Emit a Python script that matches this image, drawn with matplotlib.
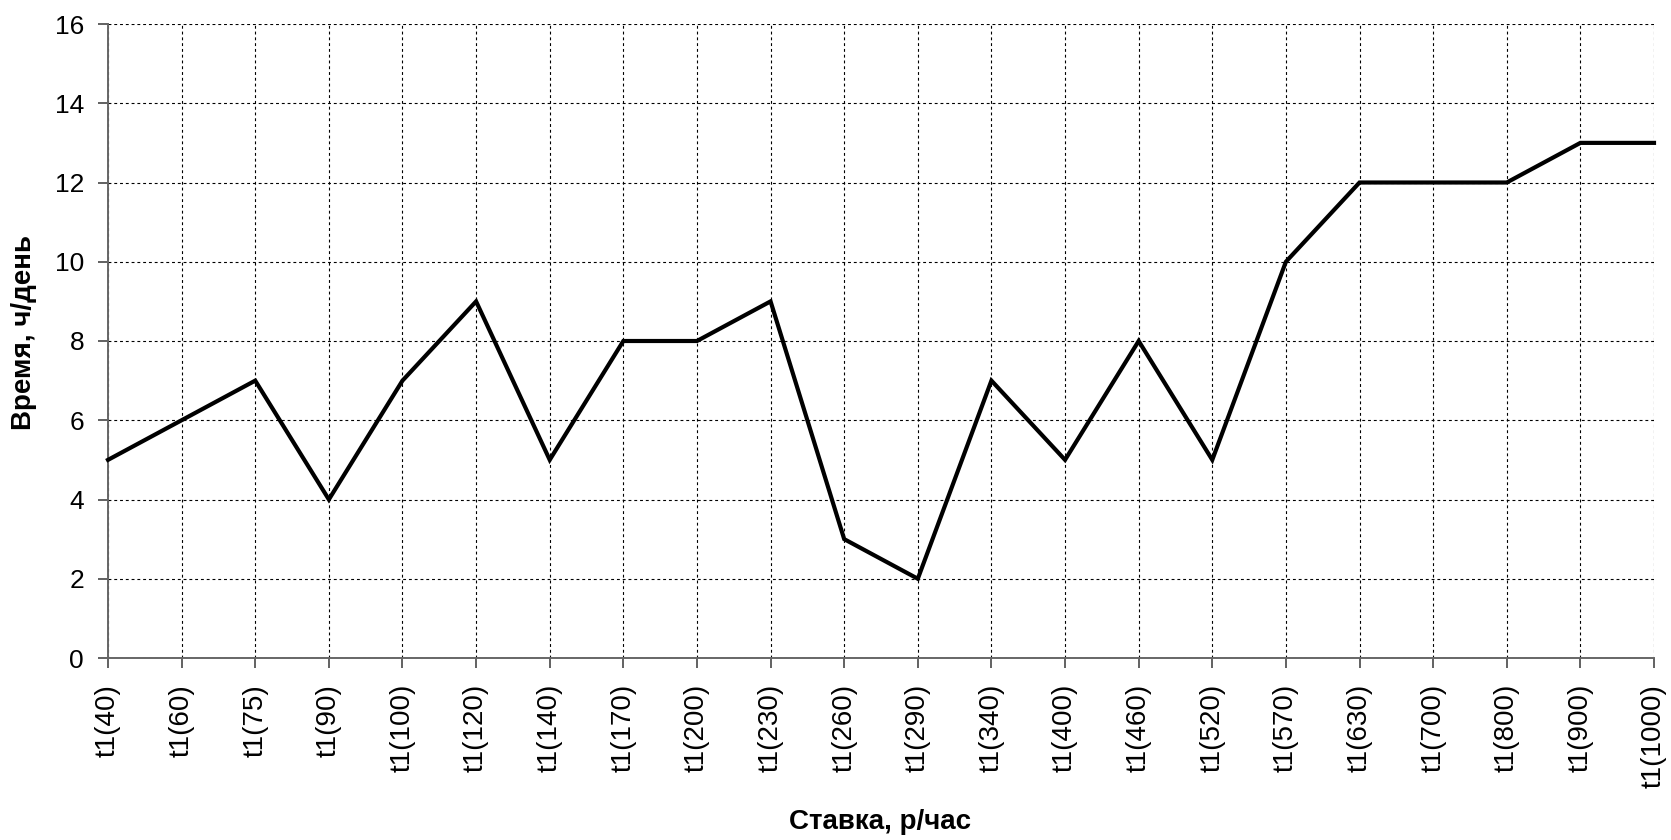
import matplotlib
matplotlib.use("Agg")
import matplotlib.pyplot as plt

plt.rcParams['font.family'] = ['Liberation Sans', 'DejaVu Sans']

rates = [40, 60, 75, 90, 100, 120, 140, 170, 200, 230, 260, 290,
         340, 400, 460, 520, 570, 630, 700, 800, 900, 1000]
hours = [5, 6, 7, 4, 7, 9, 5, 8, 8, 9, 3, 2, 7, 5, 8, 5, 10, 12, 12, 12, 13, 13]
tick_labels = [f"t1({r})" for r in rates]
y_ticks = [0, 2, 4, 6, 8, 10, 12, 14, 16]

W, H = 1671, 840
L, R, T, B = 108, 1654, 24, 658

fig = plt.figure(figsize=(W / 100, H / 100), dpi=100)
ax = fig.add_axes([L / W, 1 - B / H, (R - L) / W, (B - T) / H])

x = list(range(len(rates)))
ax.plot(x, hours, color='black', linewidth=3.0, solid_joinstyle='miter',
        zorder=3, clip_on=False)

ax.set_xlim(0, len(rates) - 1)
ax.set_ylim(0, 16)
ax.set_xticks(x)
ax.set_xticklabels(tick_labels, rotation=90, fontsize=20)
ax.set_yticks(y_ticks)
ax.set_yticklabels([str(v) for v in y_ticks], fontsize=19)

ax.grid(True, color='black', linestyle=(0, (2.6, 2.6)), linewidth=0.8)
ax.set_axisbelow(True)

for side in ('top', 'right'):
    ax.spines[side].set_visible(False)
for side in ('left', 'bottom'):
    ax.spines[side].set_color('#666666')
    ax.spines[side].set_linewidth(1.4)

ax.tick_params(axis='both', direction='out', length=7.2, width=1.3, color='#555555')
ax.tick_params(axis='x', pad=11.5)
ax.tick_params(axis='y', pad=10)

ax.set_xlabel('Ставка, р/час', fontsize=20, fontweight='bold')
ax.set_ylabel('Время, ч/день', fontsize=20, fontweight='bold')
ax.xaxis.set_label_coords((880 - L) / (R - L), -(822 - B) / (B - T))
ax.yaxis.set_label_coords(-(L - 24) / (R - L), (B - 332) / (B - T))
ax.xaxis.label.set_va('center')
ax.yaxis.label.set_va('center')

fig.savefig('out.png', dpi=100, facecolor='white')
